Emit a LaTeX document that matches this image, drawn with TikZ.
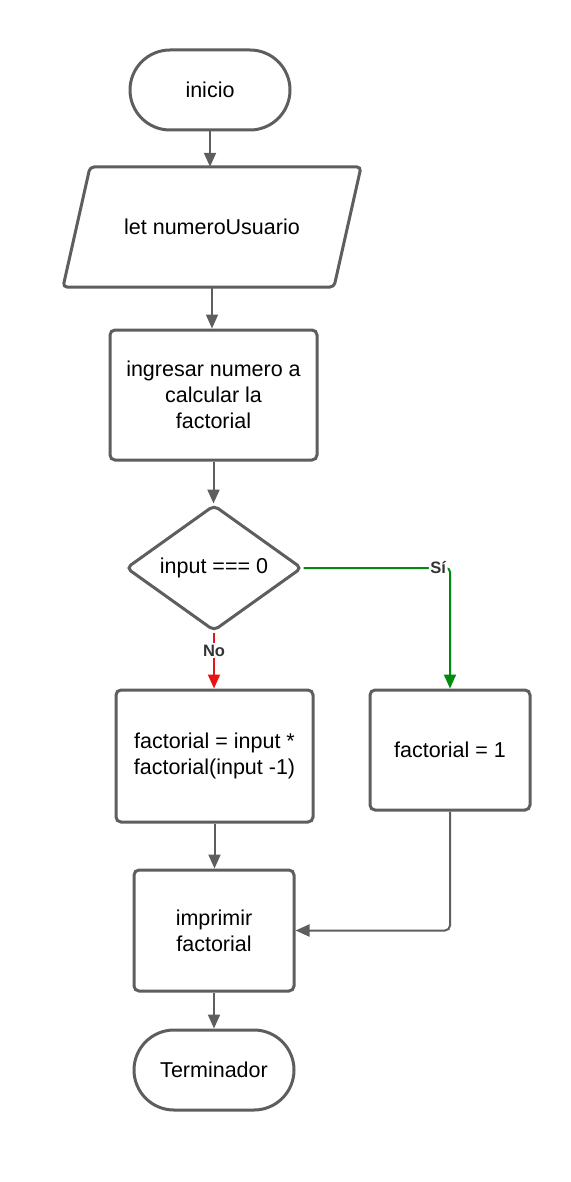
\documentclass[tikz,border=0pt]{standalone}
\usepackage{fontspec}
\setmainfont{Liberation Sans}
\usetikzlibrary{shapes.geometric,arrows.meta}
\definecolor{edge}{HTML}{5E5E5E}
\definecolor{yesgreen}{HTML}{008A0E}
\definecolor{nored}{HTML}{E81313}
\begin{document}
\begin{tikzpicture}[x=1pt,y=-1pt,
  every node/.style={font=\fontsize{21.5}{26}\selectfont, text=black, align=center},
  shapebox/.style={draw=edge, line width=3pt, rounded corners=5pt, inner sep=0pt},
  term/.style={shapebox, rounded corners=40pt, minimum width=160pt, minimum height=80pt},
  proc/.style={shapebox, rectangle},
  conn/.style={draw=edge, line width=2pt, -{Triangle[length=14pt,width=12pt]}},
  lbl/.style={font=\fontsize{16.5}{19}\bfseries\selectfont, text=black!80, fill=white, inner sep=1.5pt}
]
\useasboundingbox (0,0) rectangle (570,1182);
% nodes
\node[term] (start) at (210,90) {inicio};
\node[minimum width=243pt, minimum height=120pt, inner sep=0pt] (par) at (212,227) {let numeroUsuario};
\draw[draw=edge, line width=3pt, rounded corners=4pt] (90,167) -- (361,167) -- (334,287) -- (63,287) -- cycle;
\node[proc, minimum width=207pt, minimum height=130pt] (ing) at (213.5,395) {ingresar numero a\\calcular la\\factorial};
\node[shapebox, diamond, aspect=1.4, minimum width=176pt, minimum height=126pt] (dec) at (214,568) {input === 0};
\node[proc, minimum width=197pt, minimum height=132pt] (fa) at (214.5,756) {factorial = input *\\factorial(input -1)};
\node[proc, minimum width=160pt, minimum height=120pt] (f1) at (450,750) {factorial = 1};
\node[proc, minimum width=160pt, minimum height=121pt] (imp) at (214,930.5) {imprimir\\factorial};
\node[term] (end) at (214,1070) {Terminador};
% connectors
\draw[conn] (start.south) -- (start.south |- par.north);
\draw[conn] (par.south) -- (par.south |- ing.north);
\draw[conn] (ing.south) -- (ing.south |- dec.north);
\draw[conn, draw=nored] (dec.south) -- node[lbl, pos=0.32]{No} (dec.south |- fa.north);
\draw[conn, draw=yesgreen, rounded corners=4pt] (dec.east) -| node[lbl, pos=0.46]{Sí} (f1.north);
\draw[conn] (fa.south) -- (fa.south |- imp.north);
\draw[conn, rounded corners=5pt] (f1.south) |- (imp.east);
\draw[conn] (imp.south) -- (imp.south |- end.north);
\end{tikzpicture}
\end{document}
